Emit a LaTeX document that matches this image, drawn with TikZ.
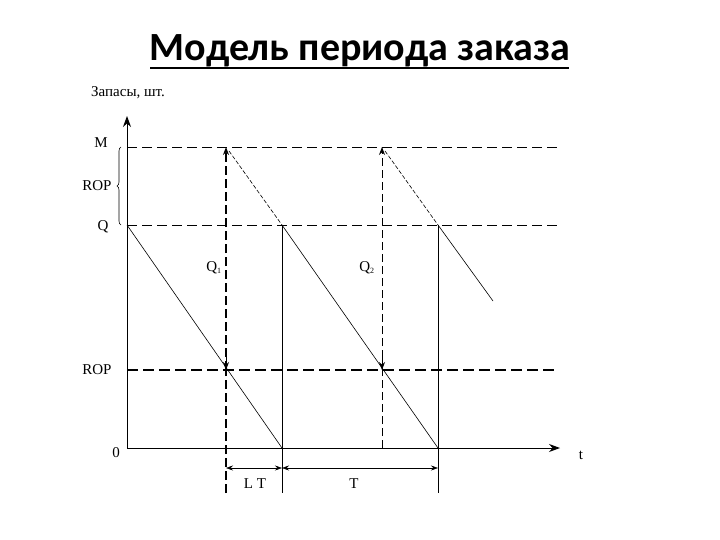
\documentclass[tikz,border=0pt]{standalone}
\usepackage{fontspec}
\setmainfont{Liberation Serif}
\newfontfamily\titlefont{Carlito}
\usetikzlibrary{arrows.meta,decorations.pathreplacing}
\begin{document}
\begin{tikzpicture}[x=1pt,y=-1pt,
  lbl/.style={font=\fontsize{15}{17}\selectfont, inner sep=0pt},
  axisline/.style={line width=0.9pt},
  levelthin/.style={line width=0.8pt, dash pattern=on 10pt off 5pt},
  levelthick/.style={line width=1.8pt, dash pattern=on 11pt off 5pt},
  saw/.style={line width=0.6pt},
  sawdash/.style={line width=0.6pt, dash pattern=on 4pt off 2pt},
  vthin/.style={line width=0.7pt},
  vdash/.style={line width=0.8pt, dash pattern=on 8pt off 4pt},
  vdashthick/.style={line width=1.8pt, dash pattern=on 9pt off 4pt},
  tip/.style={-{Stealth[length=8pt,width=6pt]}},
  dim/.style={line width=0.6pt, {Stealth[length=7pt,width=5pt]}-{Stealth[length=7pt,width=5pt]}}
]
\useasboundingbox (0,0) rectangle (720,540);
% title
\node[font=\titlefont\bfseries\fontsize{40}{44}\selectfont, inner sep=0pt, anchor=base] (title) at (360,61) {Модель периода заказа};
\draw[line width=2.4pt] (150,68) -- (569,68);
% coordinates
\coordinate (O) at (127,448);
\coordinate (Ytop) at (127,116);
\coordinate (Xend) at (560,448);
\coordinate (Mleft) at (127,147);
\coordinate (Mright) at (558,147);
\coordinate (Qleft) at (127,225);
\coordinate (Qright) at (558,225);
\coordinate (Rleft) at (127,370);
\coordinate (Rright) at (558,370);
\coordinate (A1top) at (226,147);
\coordinate (A1rop) at (226,370);
\coordinate (A1bot) at (226,493);
\coordinate (B1q) at (282,225);
\coordinate (B1z) at (282,448);
\coordinate (B1bot) at (282,493);
\coordinate (A2top) at (382,147);
\coordinate (A2rop) at (382,370);
\coordinate (A2z) at (382,448);
\coordinate (B2q) at (438,225);
\coordinate (B2z) at (438,448);
\coordinate (B2bot) at (438,493);
\coordinate (Send) at (493,301);
% levels
\draw[levelthin] (Mleft) -- (Mright);
\draw[levelthin] (Qleft) -- (Qright);
\draw[levelthick] (Rleft) -- (Rright);
% axes
\draw[axisline, -{Stealth[length=11pt,width=8pt]}] (O) -- (Ytop);
\draw[axisline, -{Stealth[length=11pt,width=8pt]}] (O) -- (Xend);
% verticals
\draw[vdashthick] (A1bot) -- (A1rop);
\draw[vdashthick, tip] (A1rop) -- (A1top);
\draw[line width=1pt, tip] (226,352) -- (A1rop);
\draw[vthin] (B1q) -- (B1bot);
\draw[vdash] (A2z) -- (A2rop);
\draw[vdash, tip] (A2rop) -- (A2top);
\draw[line width=0.8pt, tip] (382,355) -- (A2rop);
\draw[vthin] (B2q) -- (B2bot);
% sawtooth
\draw[saw] (Qleft) -- (B1z);
\draw[sawdash] (229,151) -- (B1q);
\draw[saw] (B1q) -- (B2z);
\draw[sawdash] (385,151) -- (B2q);
\draw[saw] (B2q) -- (Send);
% brace
\draw[line width=0.6pt, decorate, decoration={brace, amplitude=4pt}] (121,225) -- (121,147);
% dimensions
\coordinate (d1) at (226,468);
\coordinate (d2) at (282,468);
\coordinate (d3) at (438,468);
\draw[dim] (d1) -- (d2);
\draw[dim] (d2) -- (d3);
% labels
\node[lbl, anchor=west] (ylabel) at (91,93) {Запасы, шт.};
\node[lbl] (lM) at (101,143) {M};
\node[lbl] (lROP1) at (97,186) {ROP};
\node[lbl] (lQ) at (103,227) {Q};
\node[lbl] (lROP2) at (97,370) {ROP};
\node[lbl] (l0) at (116,453) {0};
\node[lbl] (lt) at (581,455) {t};
\node[lbl] (lQ1) at (214,268) {Q\textsubscript{\fontsize{8}{9}\selectfont 1}};
\node[lbl] (lQ2) at (367,268) {Q\textsubscript{\fontsize{8}{9}\selectfont 2}};
\node[lbl] (lLT) at (255,484) {L T};
\node[lbl] (lT) at (354,484) {T};
\end{tikzpicture}
\end{document}
